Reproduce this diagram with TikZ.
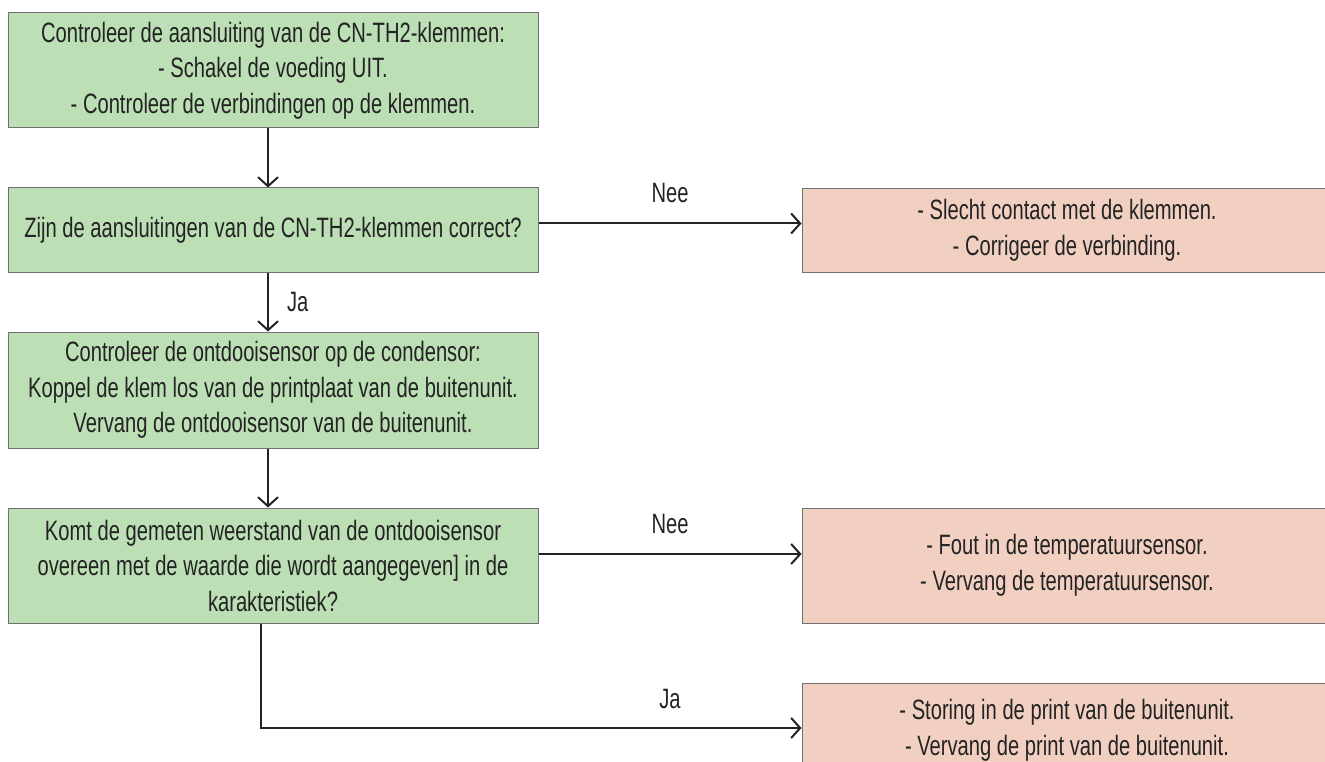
\documentclass[tikz,border=0pt]{standalone}
\usepackage{fontspec}
\setmainfont{Liberation Sans}[FakeStretch=0.72]
\usetikzlibrary{arrows.meta,calc}
\definecolor{boxgreen}{HTML}{BDDFB5}
\definecolor{boxpeach}{HTML}{F1D0C2}
\definecolor{boxline}{HTML}{707070}
\definecolor{ink}{HTML}{232323}
\begin{document}
\begin{tikzpicture}[x=1pt,y=-1pt,
  every node/.style={text=ink},
  txt/.style={font=\fontsize{28}{35.5}\selectfont, align=center, inner sep=0pt},
  gbox/.style={txt, draw=boxline, line width=1pt, fill=boxgreen, minimum width=530pt},
  pbox/.style={txt, draw=boxline, line width=1pt, fill=boxpeach, minimum width=530pt},
  arr/.style={draw=ink, line width=2pt, -{Straight Barb[length=9pt,width=20pt,line width=2pt]}},
  lbl/.style={font=\fontsize{28}{35.5}\selectfont, inner sep=0pt}]
\useasboundingbox (0,0) rectangle (1325,762);
\clip (0,0) rectangle (1325,762);
\node[gbox, minimum height=115pt] (b1) at (273,70.5) {Controleer de aansluiting van de CN-TH2-klemmen:\\- Schakel de voeding UIT.\\- Controleer de verbindingen op de klemmen.};
\node[gbox, minimum height=84pt] (b2) at (273,230) {Zijn de aansluitingen van de CN-TH2-klemmen correct?};
\node[gbox, minimum height=116pt] (b3) at (273,390) {Controleer de ontdooisensor op de condensor:\\Koppel de klem los van de printplaat van de buitenunit.\\Vervang de ontdooisensor van de buitenunit.};
\node[gbox, minimum height=115pt] (b4) at (273,565.5) {Komt de gemeten weerstand van de ontdooisensor\\overeen met de waarde die wordt aangegeven] in de\\karakteristiek?};
\node[pbox, minimum height=83pt] (r1) at (1067,230.5) {- Slecht contact met de klemmen.\\- Corrigeer de verbinding.};
\node[pbox, minimum height=115pt] (r2) at (1067,565.5) {- Fout in de temperatuursensor.\\- Vervang de temperatuursensor.};
\node[pbox, minimum height=95pt] (r3) at (1067,730.5) {- Storing in de print van de buitenunit.\\- Vervang de print van de buitenunit.};
\draw[arr] ([xshift=-5pt]b1.south) -- ([xshift=-5pt]b2.north);
\draw[arr] ([xshift=-5pt]b2.south) -- node[lbl, midway, right=18pt] (ja1) {Ja} ([xshift=-5pt]b3.north);
\draw[arr] ([xshift=-5pt]b3.south) -- ([xshift=-5pt]b4.north);
\draw[arr] ([yshift=6.5pt]b2.east) -- node[lbl, midway, anchor=base, yshift=21pt] (nee1) {Nee} ([yshift=6.5pt]b2.east -| r1.west);
\draw[arr] ([yshift=11.5pt]b4.east) -- node[lbl, midway, anchor=base, yshift=21pt] (nee2) {Nee} ([yshift=11.5pt]b4.east -| r2.west);
\draw[arr] ([xshift=-12pt]b4.south) |- ([yshift=2.5pt]r3.west);
\coordinate (jamid) at ($([yshift=2.5pt]r3.west -| b4.east)!0.5!([yshift=2.5pt]r3.west)$);
\node[lbl, anchor=base, yshift=20pt] (ja2) at (jamid) {Ja};
\end{tikzpicture}
\end{document}
